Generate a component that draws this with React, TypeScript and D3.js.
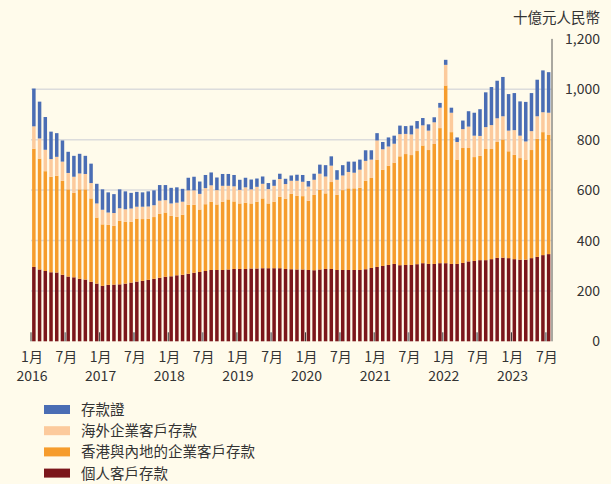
import React, { useEffect, useRef } from "react";
import * as d3 from "d3";

// monthly, Jan 2016 - Jul 2023, RMB bn
const personal = [295, 285, 279, 274, 273, 264, 257, 254, 248, 245, 236, 229, 220,
  224, 225, 226, 229, 233, 237, 240, 244, 248, 252, 256, 258, 262,
  264, 268, 272, 275, 279, 283, 283, 283, 285, 287, 287, 287, 289,
  289, 290, 290, 290, 290, 287, 286, 285, 285, 283, 282, 285, 287,
  287, 283, 283, 283, 283, 283, 286, 291, 295, 299, 303, 307, 302,
  303, 303, 306, 310, 307, 307, 310, 310, 307, 307, 311, 317, 319,
  322, 322, 326, 331, 332, 330, 326, 324, 324, 330, 335, 342, 346];

const corpHK = [469, 440, 396, 379, 384, 373, 346, 335, 355, 358, 331, 262, 244,
  238, 233, 252, 245, 241, 250, 245, 242, 245, 254, 255, 240, 232,
  238, 274, 270, 248, 265, 271, 260, 271, 278, 268, 260, 263, 258,
  265, 277, 257, 264, 283, 279, 299, 292, 291, 275, 299, 316, 300,
  345, 298, 317, 324, 324, 326, 351, 357, 426, 382, 394, 402, 432,
  440, 436, 449, 467, 452, 476, 536, 705, 523, 414, 456, 450, 412,
  414, 441, 437, 460, 469, 424, 414, 403, 397, 429, 469, 488, 473];

const overseas = [89, 80, 85, 70, 75, 76, 65, 64, 63, 61, 61, 56, 58,
  49, 51, 50, 50, 53, 47, 49, 49, 47, 52, 49, 49, 56,
  52, 57, 57, 62, 64, 65, 57, 63, 54, 60, 54, 61, 56,
  59, 58, 57, 63, 71, 58, 52, 60, 57, 56, 60, 64, 67,
  65, 60, 58, 65, 62, 72, 79, 73, 76, 81, 76, 75, 88,
  80, 82, 89, 80, 77, 86, 81, 82, 77, 70, 75, 85, 85,
  79, 87, 95, 94, 92, 82, 98, 89, 72, 75, 89, 79, 88];

const cds = [150, 146, 130, 109, 94, 84, 84, 83, 78, 72, 77, 78, 81,
  80, 75, 75, 71, 62, 59, 57, 60, 59, 62, 60, 62, 61,
  51, 50, 54, 49, 52, 51, 50, 47, 47, 45, 40, 38, 39,
  33, 29, 24, 24, 21, 21, 21, 24, 27, 22, 24, 36, 45,
  37, 38, 41, 41, 44, 40, 42, 37, 29, 29, 36, 32, 34,
  31, 35, 30, 29, 25, 20, 19, 20, 20, 18, 34, 61, 91,
  106, 138, 151, 149, 156, 145, 147, 136, 157, 151, 145, 166, 161];

const seriesNames = ["個人客戶存款", "香港與內地的企業客戶存款", "海外企業客戶存款", "存款證"];
const colors = ["#7b161b", "#f69c2c", "#fcca9c", "#4a6db4"];
const years = ["2016", "2017", "2018", "2019", "2020", "2021", "2022", "2023"];
const monthLabels = ["1月", "7月"];
const yTicks = [0, 200, 400, 600, 800, 1000, 1200];
const unitLabel = "十億元人民幣";

const font = "'Noto Sans CJK TC', 'Liberation Sans', sans-serif";

export default function App() {
  const ref = useRef<SVGSVGElement>(null);

  useEffect(() => {
    const width = 611;
    const height = 484;
    const left = 31, right = 551.5, top = 38.9, bottom = 341.3;
    const n = personal.length;

    const svg = d3.select(ref.current).attr("width", width).attr("height", height);
    svg.selectAll("*").remove();

    svg.append("rect").attr("width", width).attr("height", height).attr("fill", "#fffbeb");

    const x = d3.scaleLinear().domain([0, n]).range([left, right]);
    const y = d3.scaleLinear().domain([0, 1200]).range([bottom, top]);
    const step = x(1) - x(0);
    const bw = 3.5;

    // grid
    svg.selectAll(".grid").data(yTicks.filter(d => d > 0 && d < 1200)).join("line")
      .attr("class", "grid")
      .attr("x1", left).attr("x2", right)
      .attr("y1", d => y(d)).attr("y2", d => y(d))
      .attr("stroke", "#dcdcdc").attr("stroke-width", 1.5);

    const rows = personal.map((p, i) => ({ i, s0: p, s1: corpHK[i], s2: overseas[i], s3: cds[i] }));
    const stack = d3.stack<any>().keys(["s0", "s1", "s2", "s3"])(rows);

    svg.selectAll(".layer").data(stack).join("g")
      .attr("class", "layer")
      .attr("fill", (d, k) => colors[k])
      .selectAll("rect").data(d => d).join("rect")
      .attr("x", d => x(d.data.i) + (step - bw) / 2)
      .attr("width", bw)
      .attr("y", d => y(d[1]))
      .attr("height", d => y(d[0]) - y(d[1]));

    // right axis
    svg.append("line").attr("x1", right + 0.5).attr("x2", right + 0.5)
      .attr("y1", top).attr("y2", bottom)
      .attr("stroke", "#555").attr("stroke-width", 1);

    svg.selectAll(".ylab").data(yTicks).join("text")
      .attr("class", "ylab")
      .attr("x", 600).attr("y", d => y(d) + 5)
      .attr("text-anchor", "end")
      .style("font-family", font).style("font-size", "14px").attr("fill", "#333")
      .text(d => d3.format(",")(d));

    svg.append("text").attr("x", 600).attr("y", 23)
      .attr("text-anchor", "end")
      .style("font-family", font).style("font-size", "14.5px").attr("fill", "#333")
      .text(unitLabel);

    // x ticks and labels every 6 months
    const tickIdx = d3.range(0, n, 6);
    svg.selectAll(".xtick").data(tickIdx).join("line")
      .attr("class", "xtick")
      .attr("x1", d => x(d)).attr("x2", d => x(d))
      .attr("y1", bottom - 9).attr("y2", bottom)
      .attr("stroke", d => (d % 12 === 0 ? "#333" : "#888"))
      .attr("stroke-width", d => (d % 12 === 0 ? 1 : 2));

    svg.selectAll(".mlab").data(tickIdx).join("text")
      .attr("class", "mlab")
      .attr("x", d => x(d) + 1).attr("y", 362)
      .attr("text-anchor", "middle")
      .style("font-family", font).style("font-size", "14px").attr("fill", "#333")
      .text(d => monthLabels[(d / 6) % 2]);

    svg.selectAll(".yrlab").data(years).join("text")
      .attr("class", "yrlab")
      .attr("x", (d, k) => x(k * 12) + 1).attr("y", 381)
      .attr("text-anchor", "middle")
      .style("font-family", font).style("font-size", "14px").attr("fill", "#333")
      .text(d => d);

    // legend, top to bottom: CDs first
    const legendOrder = [3, 2, 1, 0];
    const lg = svg.selectAll(".legend").data(legendOrder).join("g")
      .attr("class", "legend")
      .attr("transform", (d, k) => `translate(44, ${410 + k * 21.2})`);
    lg.append("rect").attr("x", 0).attr("y", -5).attr("width", 26).attr("height", 9)
      .attr("fill", d => colors[d]);
    lg.append("text").attr("x", 37).attr("y", 5)
      .style("font-family", font).style("font-size", "14.5px").attr("fill", "#333")
      .text(d => seriesNames[d]);
  }, []);

  return (
    <div style={{ position: "absolute", left: 0, top: 0 }}>
      <svg ref={ref} style={{ display: "block" }}></svg>
    </div>
  );
}
